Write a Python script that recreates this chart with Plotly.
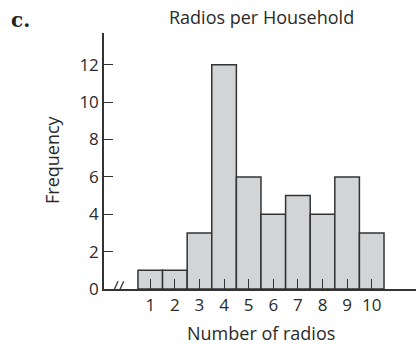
import plotly.graph_objects as go

radios = [1, 2, 3, 4, 5, 6, 7, 8, 9, 10]
frequency = [1, 1, 3, 12, 6, 4, 5, 4, 6, 3]
y_ticks = [0, 2, 4, 6, 8, 10, 12]

W, H = 416, 345
L, R, T = 104, 0, 33
B = H - 289
pw, ph = W - L - R, H - T - B

def px(x):
    return (x - L) / pw

def py(y):
    return (H - B - y) / ph

font = "Open Sans, Noto Sans, sans-serif"
ink = "#2a2a2a"

fig = go.Figure(go.Bar(
    x=radios, y=frequency, width=1,
    marker=dict(color="#d3d4d6", line=dict(color="#333333", width=1.5)),
    hoverinfo="skip",
))

shapes = []
for x0, x1 in [(-0.56, -0.31), (-0.33, -0.08)]:
    shapes.append(dict(type="line", xref="x", yref="y", x0=x0, x1=x1, y0=-0.32, y1=0.42,
                       line=dict(color="#333333", width=1.3)))

fig.update_layout(
    width=W, height=H,
    margin=dict(l=L, r=R, t=T, b=B, pad=0, autoexpand=False),
    paper_bgcolor="white", plot_bgcolor="white",
    showlegend=False,
    font=dict(family=font, size=17, color=ink),
    xaxis=dict(range=[-0.88, 11.8], tickvals=radios, ticktext=[str(v) for v in radios],
               ticks="inside", ticklen=10, tickwidth=1.3, tickcolor="#333333",
               showline=True, linecolor="#333333", linewidth=1.5,
               showgrid=False, zeroline=False, tickfont=dict(size=17)),
    yaxis=dict(range=[0, 13.7], tickvals=y_ticks, ticks="inside", ticklen=9,
               tickwidth=1.3, tickcolor="#333333",
               showline=True, linecolor="#333333", linewidth=1.5,
               showgrid=False, zeroline=False, tickfont=dict(size=17)),
    shapes=shapes,
    annotations=[
        dict(text="Radios per Household", xref="paper", yref="paper", x=px(261), y=py(17),
             xanchor="center", yanchor="middle", showarrow=False, font=dict(size=18)),
        dict(text="<b>c.</b>", xref="paper", yref="paper", x=px(9), y=py(20),
             xanchor="left", yanchor="middle", showarrow=False,
             font=dict(family="DejaVu Serif, Liberation Serif, serif", size=20, color="#222")),
        dict(text="Number of radios", xref="paper", yref="paper", x=px(261), y=py(333),
             xanchor="center", yanchor="middle", showarrow=False, font=dict(size=18)),
        dict(text="Frequency", xref="paper", yref="paper", x=px(52), y=py(160),
             xanchor="center", yanchor="middle", showarrow=False, textangle=-90,
             font=dict(size=18)),
    ],
)

fig.write_html("out.html", config={"displayModeBar": False},
               post_script="document.body.style.margin='0';document.body.style.overflow='hidden';")
